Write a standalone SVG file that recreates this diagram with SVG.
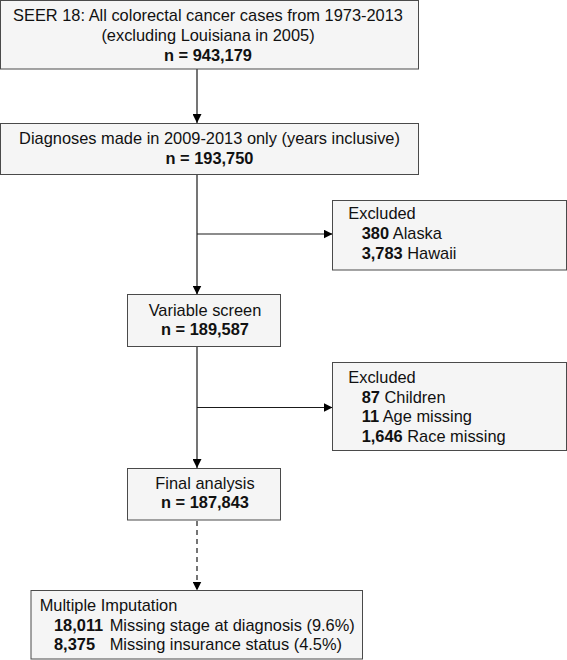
<svg xmlns="http://www.w3.org/2000/svg" width="567" height="660" viewBox="0 0 567 660">
<style>
.box{fill:#f5f5f5;stroke:#4a4a4a;stroke-width:1}
text{font-family:"Liberation Sans",Arial,Helvetica,sans-serif;font-size:16.4px;fill:#111}
.c{text-anchor:middle}
.b{font-weight:bold}
.ln{stroke:#1a1a1a;stroke-width:1.2;fill:none}
.dash{stroke-dasharray:5,4}
</style>
<defs>
<marker id="ah" markerWidth="9" markerHeight="9" refX="9" refY="4.5" orient="auto" markerUnits="userSpaceOnUse">
<path d="M0,0 L9,4.5 L0,9 Z" fill="#000"/>
</marker>
</defs>
<rect width="567" height="660" fill="#fff"/>
<g id="connectors">
<line class="ln" x1="197" y1="69" x2="197" y2="123" marker-end="url(#ah)"/>
<line class="ln" x1="197" y1="174.5" x2="197" y2="294.5" marker-end="url(#ah)"/>
<line class="ln" x1="197" y1="234" x2="332.5" y2="234" marker-end="url(#ah)"/>
<line class="ln" x1="197" y1="346.5" x2="197" y2="468" marker-end="url(#ah)"/>
<line class="ln" x1="197" y1="407.5" x2="332.5" y2="407.5" marker-end="url(#ah)"/>
<line class="ln dash" x1="197" y1="521" x2="197" y2="590.5" marker-end="url(#ah)"/>
</g>
<g id="seer">
<rect class="box" x="0.5" y="0.5" width="418" height="68.5"/>
<text class="c" x="208" y="21">SEER 18: All colorectal cancer cases from 1973-2013</text>
<text class="c" x="208" y="41">(excluding Louisiana in 2005)</text>
<text class="c b" x="208" y="61">n = 943,179</text>
</g>
<g id="diagnoses">
<rect class="box" x="0.5" y="123.5" width="418" height="51"/>
<text class="c" x="209.5" y="144">Diagnoses made in 2009-2013 only (years inclusive)</text>
<text class="c b" x="209.5" y="163.5">n = 193,750</text>
</g>
<g id="excluded1">
<rect class="box" x="332.5" y="200.5" width="234" height="69.5"/>
<text x="348.3" y="219">Excluded</text>
<text x="361.7" y="239"><tspan class="b">380</tspan> Alaska</text>
<text x="361.7" y="258.5"><tspan class="b">3,783</tspan> Hawaii</text>
</g>
<g id="variable">
<rect class="box" x="127.5" y="294.5" width="153" height="52"/>
<text class="c" x="205" y="315.5">Variable screen</text>
<text class="c b" x="205" y="334.8">n = 189,587</text>
</g>
<g id="excluded2">
<rect class="box" x="332.5" y="362.5" width="234" height="88"/>
<text x="348.3" y="382.7">Excluded</text>
<text x="361.7" y="402.7"><tspan class="b">87</tspan> Children</text>
<text x="361.7" y="422.3"><tspan class="b">11</tspan> Age missing</text>
<text x="361.7" y="441.7"><tspan class="b">1,646</tspan> Race missing</text>
</g>
<g id="final">
<rect class="box" x="127.5" y="468.5" width="153" height="51.5"/>
<text class="c" x="205" y="488.5">Final analysis</text>
<text class="c b" x="205" y="508">n = 187,843</text>
</g>
<g id="imputation">
<rect class="box" x="31" y="590.5" width="331.5" height="68.5"/>
<text x="39.7" y="611">Multiple Imputation</text>
<text class="b" x="54" y="630.7">18,011</text>
<text x="109.7" y="630.7">Missing stage at diagnosis (9.6%)</text>
<text class="b" x="54" y="650">8,375</text>
<text x="109.7" y="650">Missing insurance status (4.5%)</text>
</g>
</svg>
